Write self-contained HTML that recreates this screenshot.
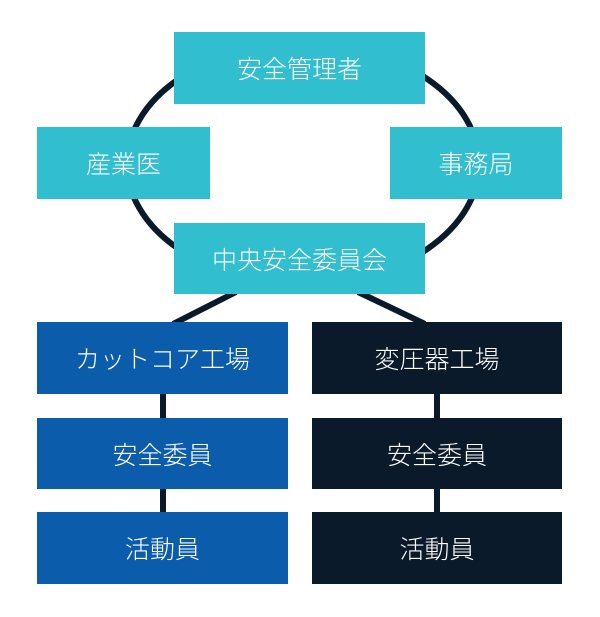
<!DOCTYPE html>
<html><head><meta charset="utf-8"><style>
body{margin:0;width:600px;height:617px;background:#fff;overflow:hidden;position:relative;font-family:"Liberation Sans","Noto Sans CJK JP",sans-serif}
.b{position:absolute;color:#fff;display:flex;align-items:center;justify-content:center;font-size:25px;font-weight:300}
.c{background:#31bfcf}.u{background:#0b5cab}.d{background:#0b1a2b}
svg{position:absolute;left:0;top:0}
</style></head><body>
<svg width="600" height="617">
<ellipse cx="303" cy="164" rx="176" ry="120" fill="none" stroke="#0b1a2b" stroke-width="6"/>
<line x1="236" y1="292" x2="173" y2="324" stroke="#0b1a2b" stroke-width="6"/>
<line x1="358" y1="292" x2="425" y2="324" stroke="#0b1a2b" stroke-width="6"/>
<line x1="163" y1="390" x2="163" y2="515" stroke="#0b1a2b" stroke-width="6"/>
<line x1="437" y1="390" x2="437" y2="515" stroke="#0b1a2b" stroke-width="6"/>
</svg>
<div class="b c" style="left:174px;top:32px;width:251px;height:72px">安全管理者</div>
<div class="b c" style="left:37px;top:127px;width:173px;height:72px">産業医</div>
<div class="b c" style="left:390px;top:127px;width:172px;height:72px">事務局</div>
<div class="b c" style="left:174px;top:223px;width:251px;height:71px">中央安全委員会</div>
<div class="b u" style="left:37px;top:322px;width:251px;height:72px">カットコア工場</div>
<div class="b u" style="left:37px;top:418px;width:251px;height:71px">安全委員</div>
<div class="b u" style="left:37px;top:512px;width:251px;height:72px">活動員</div>
<div class="b d" style="left:312px;top:322px;width:250px;height:72px">変圧器工場</div>
<div class="b d" style="left:312px;top:418px;width:250px;height:71px">安全委員</div>
<div class="b d" style="left:312px;top:512px;width:250px;height:72px">活動員</div>
</body></html>
